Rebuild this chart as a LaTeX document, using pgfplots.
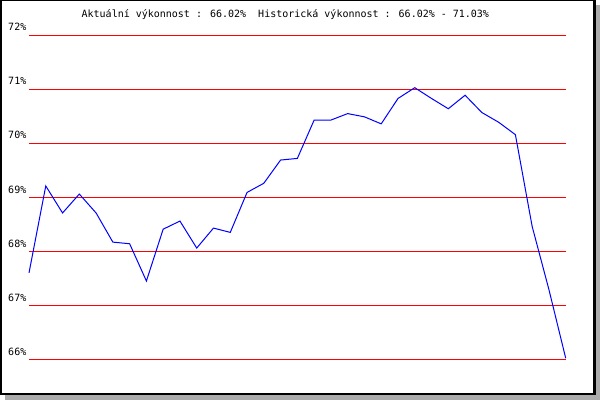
\documentclass[border=0pt]{standalone}
\usepackage{pgfplots}
\pgfplotsset{compat=1.18}
\usepackage{fontspec}
\setmainfont{DejaVu Sans Mono}
\pgfplotstableread{
i v
1 67.60
2 69.21
3 68.71
4 69.06
5 68.71
6 68.17
7 68.14
8 67.45
9 68.41
10 68.56
11 68.06
12 68.43
13 68.35
14 69.09
15 69.26
16 69.69
17 69.72
18 70.43
19 70.43
20 70.55
21 70.49
22 70.36
23 70.83
24 71.03
25 70.83
26 70.64
27 70.89
28 70.57
29 70.39
30 70.16
31 68.46
32 67.29
33 66.02
}\perf
\begin{document}
\begin{tikzpicture}[x=1bp,y=1bp]
\path[use as bounding box] (0,0) rectangle (600,400);
\fill[black!33] (5,0) rectangle (600,395);
\fill[black] (0,5) rectangle (596,400);
\fill[white] (2,7.3) rectangle (593.3,399);
\begin{axis}[
  at={(29bp,40.7bp)}, anchor=south west,
  scale only axis, width=536.7bp, height=324bp,
  xmin=1, xmax=33, ymin=66, ymax=72,
  axis line style={draw=none},
  tick style={draw=none},
  xtick=\empty,
  ytick={66,67,68,69,70,71,72},
  yticklabels={66\%,67\%,68\%,69\%,70\%,71\%,72\%},
  yticklabel style={font=\fontsize{10bp}{12bp}\selectfont, anchor=base east, inner sep=0pt, xshift=-2.5bp, yshift=4.3bp},
  ymajorgrids,
  grid style={red, line width=1bp},
  title={Aktuální výkonnost : 66.02\%\ \ Historická výkonnost : 66.02\% - 71.03\%},
  title style={font=\fontsize{10bp}{12bp}\selectfont, at={(0.5,1)}, anchor=base, inner sep=0pt, yshift=11.5bp, xshift=-12bp},
  clip=false,
]
\addplot[blue, line width=1bp, mark=none] table[x=i, y=v] {\perf};
\end{axis}
\end{tikzpicture}
\end{document}
